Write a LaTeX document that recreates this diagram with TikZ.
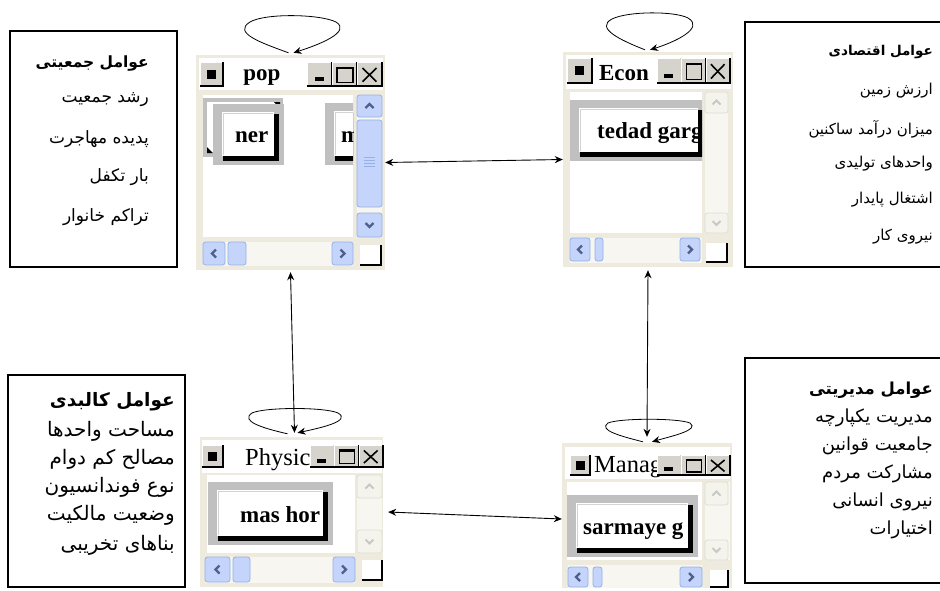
\documentclass[tikz,border=0pt]{standalone}
\usepackage{fontspec}
\setmainfont{Liberation Serif}
\newfontfamily\fa[Script=Arabic]{DejaVu Sans}
\TeXXeTstate=1
\usetikzlibrary{arrows.meta}
\definecolor{winbg}{RGB}{238,235,222}
\definecolor{sbfill}{RGB}{196,212,250}
\definecolor{sbedge}{RGB}{150,176,232}
\definecolor{glyphc}{RGB}{77,97,140}
\definecolor{palefill}{RGB}{244,243,236}
\definecolor{paleedge}{RGB}{222,222,212}
\definecolor{paleglyph}{RGB}{200,200,196}
\definecolor{trackc}{RGB}{247,246,241}
\definecolor{btngray}{RGB}{192,192,192}
\definecolor{tbgray}{RGB}{214,211,204}
\newcommand\rl[1]{\beginR #1\endR}
\newcommand\sbtn[5]{\draw[#1,rounded corners=2.5pt] (#2,#3) rectangle (#4,#5);}
\newcommand\chup[3]{\draw[#1] ({#2-4},{#3+2}) -- (#2,{#3-2}) -- ({#2+4},{#3+2});}
\newcommand\chdn[3]{\draw[#1] ({#2-4},{#3-2}) -- (#2,{#3+2}) -- ({#2+4},{#3-2});}
\newcommand\chlf[3]{\draw[#1] ({#2+2},{#3-4}) -- ({#2-2},#3) -- ({#2+2},{#3+4});}
\newcommand\chrt[3]{\draw[#1] ({#2-2},{#3-4}) -- ({#2+2},#3) -- ({#2-2},{#3+4});}
\newcommand\sizegrip[4]{\fill[white] (#1,#2) rectangle (#3,#4); \draw[line width=1.3pt] (#1,#4) -- (#3,#4) -- (#3,#2);}
\newcommand\sysb[4]{%
  \fill[tbgray] (#1,#2) rectangle (#3,#4);
  \draw[white,line width=1pt] ({#1+0.5},{#4-1}) -- ({#1+0.5},{#2+0.5}) -- ({#3-1},{#2+0.5});
  \draw[line width=1.2pt] (#1,#4) -- (#3,#4) -- (#3,#2);
  \fill ({(#1+#3)/2-4.5},{(#2+#4)/2-4.5}) rectangle ({(#1+#3)/2+4.5},{(#2+#4)/2+4.5});}
\newcommand\tbtns[4]{%
  \foreach \k in {0,1,2}{
    \fill[tbgray] ({#1+\k*#3},#2) rectangle ({#1+(\k+1)*#3},{#2+#4});
    \draw[white,line width=1pt] ({#1+\k*#3+0.5},{#2+#4-1}) -- ({#1+\k*#3+0.5},{#2+0.5}) -- ({#1+(\k+1)*#3-1},{#2+0.5});
    \draw[line width=1.2pt] ({#1+\k*#3},{#2+#4}) -- ({#1+(\k+1)*#3},{#2+#4}) -- ({#1+(\k+1)*#3},#2);
  }
  \fill ({#1+0.3*#3},{#2+0.62*#4}) rectangle ({#1+0.66*#3},{#2+0.8*#4});
  \draw[line width=1.2pt] ({#1+1.2*#3},{#2+0.22*#4}) rectangle ({#1+1.84*#3},{#2+0.85*#4});
  \draw[line width=2.2pt] ({#1+1.2*#3},{#2+0.25*#4}) -- ({#1+1.84*#3},{#2+0.25*#4});
  \draw[line width=1.6pt] ({#1+2.22*#3},{#2+0.25*#4}) -- ({#1+2.78*#3},{#2+0.82*#4});
  \draw[line width=1.6pt] ({#1+2.22*#3},{#2+0.82*#4}) -- ({#1+2.78*#3},{#2+0.25*#4});}
\newcommand\pushbtn[7]{%
  \fill[btngray] (#1,#2) rectangle (#3,#4);
  \fill ({#1+10},{#2+10}) rectangle ({#3-5},{#4-4});
  \fill[white] ({#1+9},{#2+8}) rectangle ({#3-10},{#4-9});
  \draw[btngray!70,line width=1pt] ({#1+10},{#4-10}) -- ({#1+10},{#2+9}) -- ({#3-11},{#2+9});
  \begin{scope}
    \clip ({#1+9},{#2+8}) rectangle ({#3-10},{#4-9});
    \node[btxt,anchor=base west] (#5) at (#7,{#4-23}) {#6};
  \end{scope}}
\begin{document}
\begin{tikzpicture}[x=1pt,y=-1pt,
  fbox/.style={draw=black,line width=1.5pt,inner sep=0},
  win/.style={fill=winbg,inner sep=0,draw=none},
  ttl/.style={inner sep=0,font=\fontsize{24.5}{24.5}\selectfont},
  ttlb/.style={inner sep=0,font=\bfseries\fontsize{23}{23}\selectfont},
  btxt/.style={inner sep=0,font=\bfseries\fontsize{23}{23}\selectfont},
  arA/.style={anchor=east,inner sep=0,font=\fa\fontsize{17}{20}\selectfont},
  arAb/.style={anchor=east,inner sep=0,font=\fa\bfseries\fontsize{15.5}{18}\selectfont},
  arB/.style={anchor=east,inner sep=0,font=\fa\fontsize{15}{18}\selectfont},
  arBb/.style={anchor=east,inner sep=0,font=\fa\bfseries\fontsize{13.5}{16}\selectfont},
  arC/.style={anchor=east,inner sep=0,font=\fa\fontsize{20}{22}\selectfont},
  arCb/.style={anchor=east,inner sep=0,font=\fa\bfseries\fontsize{18.5}{22}\selectfont},
  arD/.style={anchor=east,inner sep=0,font=\fa\fontsize{18}{22}\selectfont},
  arDb/.style={anchor=east,inner sep=0,font=\fa\bfseries\fontsize{16.5}{22}\selectfont},
  sbb/.style={draw=sbedge,fill=sbfill,line width=0.8pt},
  sbp/.style={draw=paleedge,fill=palefill,line width=0.8pt},
  gl/.style={draw=glyphc,line width=2.2pt},
  pgl/.style={draw=paleglyph,line width=1.8pt},
  link/.style={line width=0.9pt,{Stealth[length=8pt,width=7pt]}-{Stealth[length=8pt,width=7pt]}},
  loopl/.style={line width=0.8pt,-{Stealth[length=8pt,width=7pt]}}]
\useasboundingbox (0,0) rectangle (940,590);
\clip (0,0) rectangle (940,590);
\fill[white] (0,0) rectangle (940,590);

% ---------- factor boxes ----------
\node[fbox,minimum width=167pt,minimum height=236pt] (fpop) at (93.5,149) {};
\node[fbox,minimum width=205pt,minimum height=245pt] (fecon) at (847.5,144.5) {};
\node[fbox,minimum width=177pt,minimum height=212pt] (fphys) at (96.5,481) {};
\node[fbox,minimum width=205pt,minimum height=225pt] (fman) at (847.5,470.5) {};

\node[arAb] (p0) at (149,63) {\rl{عوامل جمعیتی}};
\node[arA] (p1) at (149,100) {\rl{رشد جمعیت}};
\node[arA] (p2) at (149,139) {\rl{پدیده مهاجرت}};
\node[arA] (p3) at (149,177) {\rl{بار تکفل}};
\node[arA] (p4) at (149,217) {\rl{تراکم خانوار}};

\node[arBb] (e0) at (933,52) {\rl{عوامل اقتصادی}};
\node[arB] (e1) at (933,91) {\rl{ارزش زمین}};
\node[arB] (e2) at (933,129) {\rl{میزان درآمد ساکنین}};
\node[arB] (e3) at (933,164) {\rl{واحدهای تولیدی}};
\node[arB] (e4) at (933,200) {\rl{اشتغال پایدار}};
\node[arB] (e5) at (933,237) {\rl{نیروی کار}};

\node[arCb] (k0) at (175,402) {\rl{عوامل کالبدی}};
\node[arC] (k1) at (175,431) {\rl{مساحت واحدها}};
\node[arC] (k2) at (175,459) {\rl{مصالح کم دوام}};
\node[arC] (k3) at (175,487) {\rl{نوع فوندانسیون}};
\node[arC] (k4) at (175,515) {\rl{وضعیت مالکیت}};
\node[arC] (k5) at (175,545) {\rl{بناهای تخریبی}};

\node[arDb] (m0) at (933,390) {\rl{عوامل مدیریتی}};
\node[arD] (m1) at (933,418) {\rl{مدیریت یکپارچه}};
\node[arD] (m2) at (933,446) {\rl{جامعیت قوانین}};
\node[arD] (m3) at (933,474) {\rl{مشارکت مردم}};
\node[arD] (m4) at (933,502) {\rl{نیروی انسانی}};
\node[arD] (m5) at (933,530) {\rl{اختیارات}};

% ---------- pop window ----------
\node[win,minimum width=189pt,minimum height=215pt] (pop) at (290.5,162.5) {};
\fill[white] (199,58) rectangle (383,90);
\sysb{200}{62}{223}{86}
\node[ttlb,anchor=base] (popt) at (262,80) {pop};
\tbtns{307}{62}{25}{24}
\fill[white] (203,95) rectangle (353,237);
\begin{scope}
  \clip (203,95) rectangle (353,237);
  \fill[btngray] (203,98) rectangle (283,157);
  \fill[white] (207,102) rectangle (280,153);
  \fill (274,102) -- (280,102) -- (280,108) -- cycle;
  \fill (207,147) -- (213,153) -- (207,153) -- cycle;
  \pushbtn{213}{104}{284}{165}{popb1}{ner}{235}
  \pushbtn{325}{103}{400}{165}{popb2}{m}{341}
\end{scope}
\fill[trackc] (357,95) rectangle (382,237);
\sbtn{sbb}{357}{95}{382}{117} \chup{gl}{369.5}{106}
\sbtn{sbb}{357}{120}{382}{207}
\foreach \yy in {157,160,163,166} {\draw[sbedge,line width=0.8pt] (364,\yy) -- (375,\yy);}
\sbtn{sbb}{357}{213}{382}{237} \chdn{gl}{369.5}{225}
\fill[trackc] (203,242) rectangle (353,266);
\sbtn{sbb}{203}{242}{225}{265} \chlf{gl}{214}{253.5}
\sbtn{sbb}{228}{242}{246}{265}
\sbtn{sbb}{332}{242}{353}{265} \chrt{gl}{342.5}{253.5}
\sizegrip{360}{245}{381}{265}

% ---------- Econ window ----------
\node[win,minimum width=170pt,minimum height=215pt] (econ) at (648,159.5) {};
\fill[white] (566,55) rectangle (731,89);
\sysb{567}{58}{592}{83}
\node[ttlb,anchor=base] (econt) at (624,80) {Econ};
\tbtns{657}{58}{24.3}{25}
\fill[white] (570,92) rectangle (702,233);
\begin{scope}
  \clip (570,92) rectangle (702,233);
  \pushbtn{570}{100}{708}{161}{econb}{tedad garg}{597}
\end{scope}
\fill[trackc] (705,92) rectangle (728,233);
\sbtn{sbp}{705}{92}{728}{113} \chup{pgl}{716.5}{102.5}
\sbtn{sbp}{705}{213}{728}{233} \chdn{pgl}{716.5}{223}
\fill[trackc] (570,238) rectangle (702,263);
\sbtn{sbb}{570}{238}{590}{261} \chlf{gl}{580}{249.5}
\sbtn{sbb}{595}{238}{603}{261}
\sbtn{sbb}{680}{238}{700}{261} \chrt{gl}{690}{249.5}
\sizegrip{706}{243}{727}{262}

% ---------- Physic window ----------
\node[win,minimum width=183pt,minimum height=150pt] (phys) at (291.5,512) {};
\fill[white] (202,440) rectangle (382,473);
\sysb{202}{445}{223}{467}
\node[ttl,anchor=base west] (physt) at (245,465) {Physic};
\tbtns{310}{445}{24.3}{22}
\fill[white] (207,475) rectangle (355,553);
\begin{scope}
  \clip (207,475) rectangle (355,553);
  \pushbtn{208}{482}{333}{545}{physb}{mas hor}{240}
\end{scope}
\fill[trackc] (357,475) rectangle (382,553);
\sbtn{sbp}{357}{475}{382}{498} \chup{pgl}{369.5}{486.5}
\sbtn{sbp}{357}{530}{382}{553} \chdn{pgl}{369.5}{541.5}
\fill[trackc] (205,557) rectangle (355,583);
\sbtn{sbb}{205}{557}{230}{582} \chlf{gl}{217.5}{569.5}
\sbtn{sbb}{233}{557}{250}{582}
\sbtn{sbb}{333}{557}{355}{582} \chrt{gl}{344}{569.5}
\sizegrip{362}{560}{382}{580}

% ---------- Manag window ----------
\node[win,minimum width=170pt,minimum height=145pt] (manag) at (647,515.5) {};
\fill[white] (565,447) rectangle (730,479);
\sysb{570}{455}{590}{475}
\node[ttl,anchor=base west] (managt) at (594,472) {Manag};
\tbtns{657}{455}{24.3}{20}
\fill[white] (567,482) rectangle (702,560);
\begin{scope}
  \clip (567,482) rectangle (702,560);
  \pushbtn{567}{495}{698}{557}{managb}{sarmaye g}{583}
\end{scope}
\fill[trackc] (705,482) rectangle (730,560);
\sbtn{sbp}{705}{482}{728}{505} \chup{pgl}{716.5}{493.5}
\sbtn{sbp}{705}{540}{728}{560} \chdn{pgl}{716.5}{550}
\fill[trackc] (568,565) rectangle (702,588);
\sbtn{sbb}{568}{567}{588}{587} \chlf{gl}{578}{577}
\sbtn{sbb}{593}{567}{602}{587}
\sbtn{sbb}{680}{567}{702}{587} \chrt{gl}{691}{577}
\sizegrip{710}{570}{728}{587}

% ---------- connectors ----------
\draw[link] (pop.east) -- (econ.west);
\draw[link] ([xshift=5pt]phys.east) -- ([yshift=-3.5pt]manag.west);
\draw[link] ([yshift=-2pt]pop.south) -- ([xshift=3pt,yshift=4pt]phys.north);
\draw[link] ([yshift=-3pt]econ.south) -- ([yshift=6pt]manag.north);

% ---------- self loops ----------
\draw[loopl] ([xshift=-2pt,yshift=2pt]pop.north) .. controls (262,43) and (232,33) .. (250,22)
  .. controls (265,13) and (320,14) .. (336,22) .. controls (352,32) and (318,45) .. ([xshift=3pt,yshift=2pt]pop.north);
\draw[loopl] ([xshift=-3pt,yshift=2pt]econ.north) .. controls (620,40) and (595,28) .. (612,19)
  .. controls (628,11) and (675,11) .. (688,18) .. controls (705,28) and (675,42) .. ([xshift=2pt,yshift=2pt]econ.north);
\draw[loopl] ([xshift=-4pt,yshift=3pt]phys.north) .. controls (262,428) and (240,421) .. (252,413)
  .. controls (265,407) and (325,407) .. (338,413) .. controls (352,421) and (320,428) .. ([xshift=6pt,yshift=4pt]phys.north);
\draw[loopl] ([xshift=-4pt,yshift=1pt]manag.north) .. controls (620,436) and (598,430) .. (608,423)
  .. controls (620,418) and (678,418) .. (690,423) .. controls (700,430) and (672,436) .. ([xshift=5pt,yshift=1pt]manag.north);
\end{tikzpicture}
\end{document}
